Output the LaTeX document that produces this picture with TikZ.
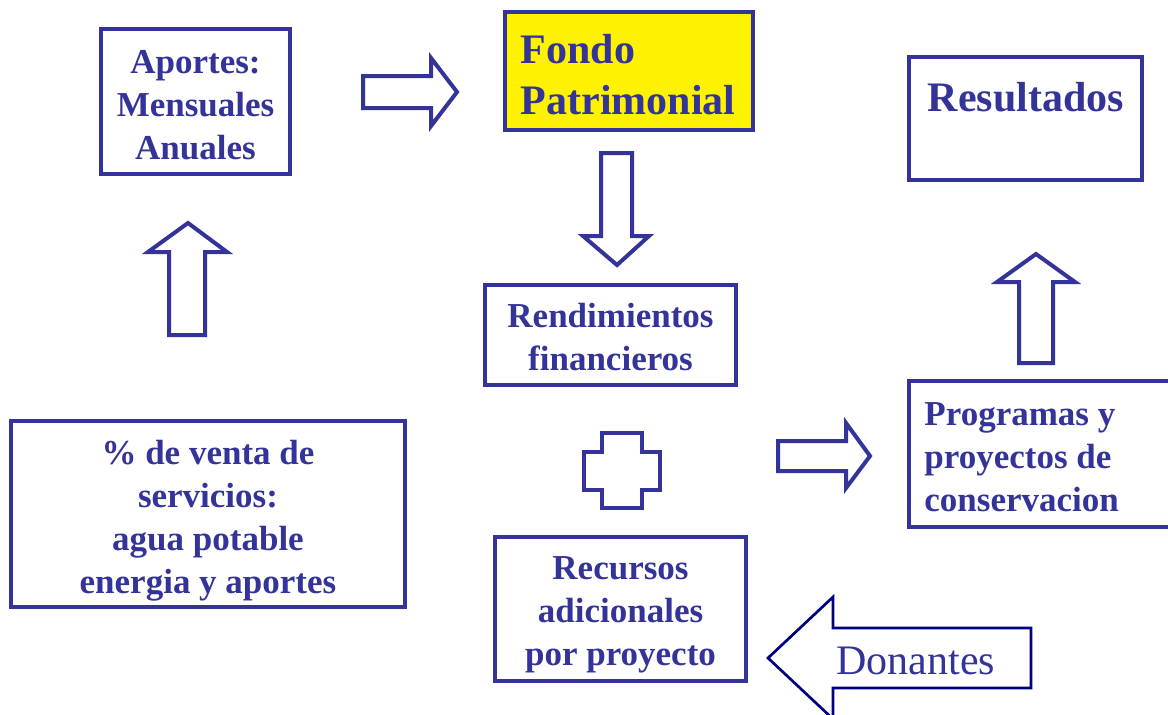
\documentclass[tikz,border=0pt]{standalone}
\usepackage{fontspec}
\setmainfont{Liberation Serif}
\usepackage{tikz}
\definecolor{fondoblue}{RGB}{51,51,153}
\definecolor{donnavy}{RGB}{0,0,128}
\newcommand{\bigbf}{\fontsize{35}{43}\selectfont\bfseries}
\newcommand{\hugebf}{\fontsize{42}{51}\selectfont\bfseries}

\begin{document}
\begin{tikzpicture}[
      x=1pt, y=-1pt,
      box/.style={draw=fondoblue,line width=3.5pt,rectangle,inner sep=0pt},
      boxtext/.style={text=fondoblue,font=\bigbf,align=center,inner sep=0pt},
      blockarrow/.style={draw=fondoblue,line width=4pt,line join=miter},
      donarrow/.style={draw=donnavy,line width=2.7pt,line join=miter}
    ]
    \useasboundingbox (0,0) rectangle (1168,715);
    \clip (0,0) rectangle (1168,715);
    % Draw the boxes.
    \node[box,minimum width=189pt,minimum height=145pt] (aportes) at (195.5,101.5) {};
    \node[box,fill=yellow,line width=4.5pt,minimum width=248pt,minimum height=118pt] (fondo) at (629,71) {};
    \node[box,minimum width=233pt,minimum height=123pt] (resultados) at (1025.5,118.5) {};
    \node[box,minimum width=251pt,minimum height=100pt] (rendim) at (610.5,335) {};
    \node[box,minimum width=394pt,minimum height=186pt] (venta) at (208,514) {};
    \node[box,minimum width=251pt,minimum height=144pt] (recursos) at (620.5,609) {};
    \node[box,minimum width=290pt,minimum height=146pt] (programas) at (1054,454) {};
    % Draw the texts.
    \node[boxtext] (aportestext) at ([yshift=-4pt]aportes.center) {Aportes:\\Mensuales\\Anuales};
    \node[boxtext,font=\hugebf,align=flush left,anchor=west] (fondotext)
      at ([xshift=18pt,yshift=-4pt]fondo.west) {Fondo\\Patrimonial};
    \node[boxtext,font=\hugebf] (restext) at (1026,97) {Resultados};
    \node[boxtext] (rendimtext) at ([yshift=-2pt]rendim.center) {Rendimientos\\financieros};
    \node[boxtext] (ventatext) at ([yshift=-7pt]venta.center)
      {\% de venta de\\servicios:\\agua potable\\energia y aportes};
    \node[boxtext] (recursostext) at ([yshift=-6pt]recursos.center)
      {Recursos\\adicionales\\por proyecto};
    \node[boxtext,align=flush left,anchor=west] (programastext)
      at ([xshift=17pt,yshift=-3pt]programas.west) {Programas y\\proyectos de\\conservacion};
    % Draw the plus sign.
    \draw[blockarrow,line width=4.5pt] (602,433) -- (642,433) -- (642,452) -- (660,452) -- (660,490)
      -- (642,490) -- (642,508) -- (602,508) -- (602,490) -- (584,490)
      -- (584,452) -- (602,452) -- cycle;
    % Draw the block arrows.
    \draw[blockarrow] (363,76) -- (431,76) -- (431,58) -- (457,92) -- (431,126)
      -- (431,108) -- (363,108) -- cycle;
    \draw[blockarrow] (601,153) -- (632,153) -- (632,236) -- (649,236) -- (617,265)
      -- (583,236) -- (601,236) -- cycle;
    \draw[blockarrow] (169,335) -- (169,252) -- (148,252) -- (188,223) -- (227,252)
      -- (205,252) -- (205,335) -- cycle;
    \draw[blockarrow] (1019,363) -- (1019,282) -- (997,282) -- (1036,254) -- (1075,282)
      -- (1053,282) -- (1053,363) -- cycle;
    \draw[blockarrow] (778,441) -- (846,441) -- (846,423) -- (870,456) -- (846,488)
      -- (846,471) -- (778,471) -- cycle;
    \draw[donarrow] (1031,628) -- (833,628) -- (833,597) -- (768,658) -- (833,719)
      -- (833,688) -- (1031,688) -- cycle;
    \node[text=fondoblue,font=\fontsize{42}{51}\selectfont,anchor=base west]
      (donantes) at (833,674) {Donantes};
\end{tikzpicture}
\end{document}
